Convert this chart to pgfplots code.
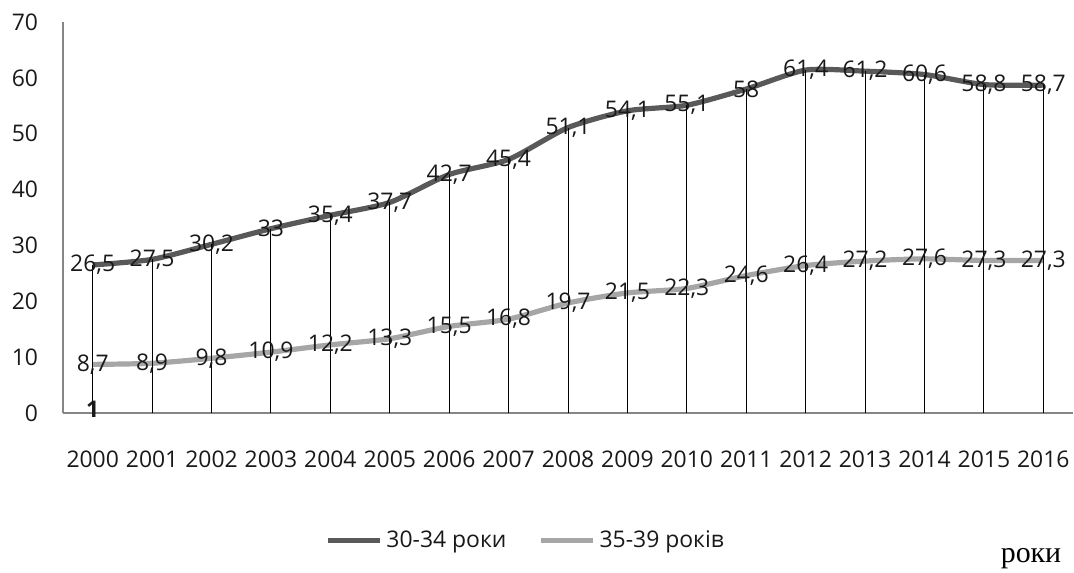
\documentclass[border=0pt]{standalone}
\usepackage{pgfplots}
\usepackage{pgfplotstable}
\pgfplotsset{compat=1.18}
\usepackage{fontspec}
\setmainfont{Open Sans}
\newfontfamily\serifcyr{Liberation Serif}

\definecolor{darkser}{HTML}{595959}
\definecolor{lightser}{HTML}{A6A6A6}
\definecolor{axgray}{HTML}{868686}

% year index, 30-34, 35-39
\pgfplotstableread{
idx a b
0 26.5 8.7
1 27.5 8.9
2 30.2 9.8
3 33 10.9
4 35.4 12.2
5 37.7 13.3
6 42.7 15.5
7 45.4 16.8
8 51.1 19.7
9 54.1 21.5
10 55.1 22.3
11 58 24.6
12 61.4 26.4
13 61.2 27.2
14 60.6 27.6
15 58.8 27.3
16 58.7 27.3
}\datatable

\begin{document}
\begin{tikzpicture}
\useasboundingbox (0,0) rectangle (537bp,286.5bp);
\begin{axis}[
  at={(31.5bp,80bp)}, anchor=south west, scale only axis,
  width=505bp, height=195.5bp,
  xmin=-0.5, xmax=16.5, ymin=0, ymax=70,
  axis lines*=left,
  axis line style={draw=axgray, line width=0.6bp},
  xtick={0,...,16},
  xticklabels={2000,2001,2002,2003,2004,2005,2006,2007,2008,2009,2010,2011,2012,2013,2014,2015,2016},
  ytick={0,10,...,70},
  major tick length=0pt,
  tick label style={font=\fontsize{11.5}{13}\selectfont, text=black!90},
  yticklabel style={xshift=-9bp},
  xticklabel style={yshift=-15.5bp},
  /pgf/number format/assume math mode=true,
  /pgf/number format/use comma,
  clip=false,
  legend style={at={(0.459,-0.327)}, anchor=center, draw=none,
    font=\fontsize{11.5}{13}\selectfont, text=black!90,
    /tikz/every even column/.append style={column sep=14bp}},
  legend columns=2,
  legend image code/.code={\draw[#1] (0,0) -- (26bp,0);},
]
\addplot[darkser, line width=2.6bp, smooth, tension=0.4] table[x=idx, y=a] {\datatable};
\addlegendentry{30-34 роки}
\addplot[lightser, line width=2.6bp, smooth, tension=0.4] table[x=idx, y=b] {\datatable};
\addlegendentry{35-39 років}
% drop lines
\addplot[black, line width=0.5bp, ycomb, forget plot] table[x=idx, y=a] {\datatable};
% data labels
\addplot[draw=none, forget plot, nodes near coords,
  every node near coord/.append style={anchor=center, font=\fontsize{11.5}{13}\selectfont, text=black!90}]
  table[x=idx, y=a] {\datatable};
\addplot[draw=none, forget plot, nodes near coords,
  every node near coord/.append style={anchor=center, font=\fontsize{11.5}{13}\selectfont, text=black!90}]
  table[x=idx, y=b] {\datatable};
\node[font=\fontsize{11.5}{13}\selectfont\bfseries, text=black!90] at (axis cs:0,0.6) {1};
\end{axis}
\node[font=\serifcyr\fontsize{15}{17}\selectfont] at (515.5bp,7bp) {роки};
\end{tikzpicture}
\end{document}
